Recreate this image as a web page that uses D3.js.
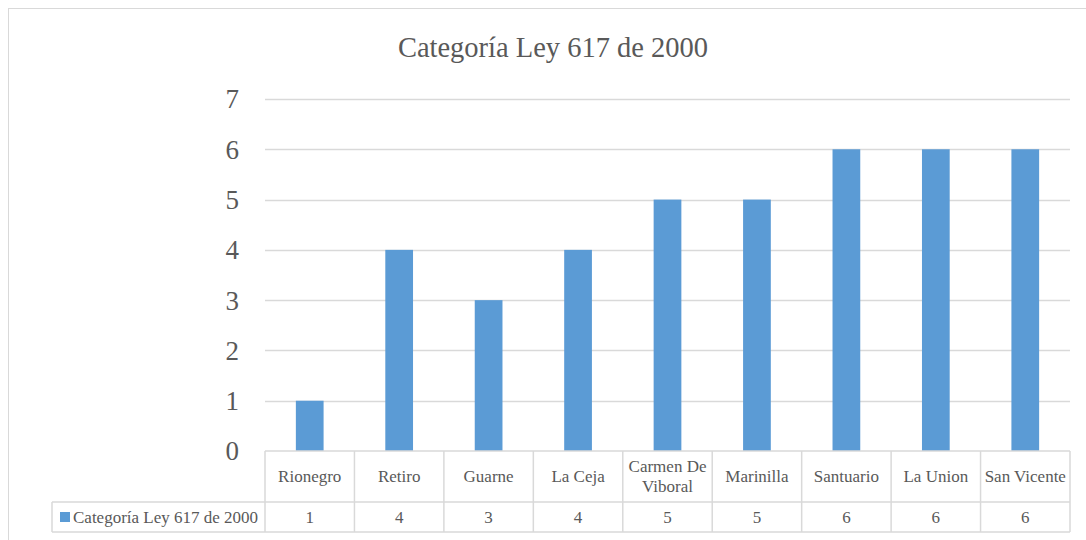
<!DOCTYPE html>
<html>
<head>
<meta charset="utf-8">
<script src="https://cdn.jsdelivr.net/npm/d3@7"></script>
<style>
  body { margin: 0; background: #fff; }
  svg text { font-family: 'Liberation Serif', 'DejaVu Serif', serif; fill: #595959; }
</style>
</head>
<body>
<svg id="chart"></svg>
<script>
// chart data
let categories = ['Rionegro', 'Retiro', 'Guarne', 'La Ceja', 'Carmen De Viboral', 'Marinilla', 'Santuario', 'La Union', 'San Vicente'];
let values = [1, 4, 3, 4, 5, 5, 6, 6, 6];
let yTicks = [0, 1, 2, 3, 4, 5, 6, 7];
let seriesName = 'Categoría Ley 617 de 2000';
let title = 'Categoría Ley 617 de 2000';

let W = 1086, H = 540;
let plot = {left: 265, right: 1070, top: 99, bottom: 451};
let rowH1 = 51, rowH2 = 30, legendLeft = 52;
let gridColor = '#d9d9d9', barColor = '#5b9bd5';

let svg = d3.select('#chart')
  .attr('width', W)
  .attr('height', H);

// outer chart border
svg.append('rect')
  .attr('x', 8.5).attr('y', 8.5)
  .attr('width', W + 10).attr('height', H + 10)
  .attr('fill', 'none')
  .attr('stroke', gridColor);

svg.append('text')
  .attr('x', 553).attr('y', 57)
  .attr('text-anchor', 'middle')
  .attr('font-size', 28.5)
  .text(title);

let xScale = d3.scaleBand()
  .domain(categories)
  .range([plot.left, plot.right])
  .paddingInner(0.69)
  .paddingOuter(0.345);

let colScale = d3.scaleBand()
  .domain(categories)
  .range([plot.left, plot.right]);

let yScale = d3.scaleLinear()
  .domain([0, 7])
  .range([plot.bottom, plot.top]);

// gridlines
svg.append('g')
  .selectAll('line')
  .data(yTicks.filter((d) => d > 0))
  .enter()
  .append('line')
  .attr('x1', plot.left).attr('x2', plot.right)
  .attr('y1', (d) => Math.round(yScale(d)) + 0.5)
  .attr('y2', (d) => Math.round(yScale(d)) + 0.5)
  .attr('stroke', gridColor)
  .attr('stroke-width', 1.5);

// y tick labels
svg.append('g')
  .selectAll('text')
  .data(yTicks)
  .enter()
  .append('text')
  .attr('x', 239)
  .attr('y', (d) => yScale(d))
  .attr('dy', '0.35em')
  .attr('text-anchor', 'end')
  .attr('font-size', 27)
  .text((d) => d);

// bars
svg.append('g')
  .selectAll('rect')
  .data(values)
  .enter()
  .append('rect')
  .attr('x', (d, i) => xScale(categories[i]))
  .attr('width', xScale.bandwidth())
  .attr('y', (d) => yScale(d))
  .attr('height', (d) => yScale(0) - yScale(d))
  .attr('fill', barColor);

// data table
let table = svg.append('g')
  .attr('stroke', gridColor)
  .attr('stroke-width', 1.5);

let yTop = plot.bottom, yMid = plot.bottom + rowH1, yBot = yMid + rowH2;

table.append('line')
  .attr('x1', plot.left).attr('x2', plot.right)
  .attr('y1', yTop).attr('y2', yTop);
table.append('line')
  .attr('x1', legendLeft).attr('x2', plot.right)
  .attr('y1', yMid).attr('y2', yMid);
table.append('line')
  .attr('x1', legendLeft).attr('x2', plot.right)
  .attr('y1', yBot).attr('y2', yBot);
table.append('line')
  .attr('x1', legendLeft).attr('x2', legendLeft)
  .attr('y1', yMid).attr('y2', yBot);

table.selectAll('.col-line')
  .data(categories)
  .enter()
  .append('line')
  .attr('class', 'col-line')
  .attr('x1', (d) => colScale(d)).attr('x2', (d) => colScale(d))
  .attr('y1', yTop).attr('y2', yBot);
table.append('line')
  .attr('x1', plot.right).attr('x2', plot.right)
  .attr('y1', yTop).attr('y2', yBot);

// category labels (wrap the long one)
let catLabels = svg.append('g')
  .selectAll('text')
  .data(categories)
  .enter()
  .append('text')
  .attr('text-anchor', 'middle')
  .attr('font-size', 17)
  .attr('transform', (d) => 'translate(' + (colScale(d) + colScale.bandwidth() / 2) + ',' + (yTop + rowH1 / 2) + ')');

catLabels.each(function (d) {
  let t = d3.select(this);
  let lines = d === 'Carmen De Viboral' ? ['Carmen De', 'Viboral'] : [d];
  lines.forEach((ln, k) => {
    t.append('tspan')
      .attr('x', 0)
      .attr('y', (k - (lines.length - 1) / 2) * 20)
      .attr('dy', '0.35em')
      .text(ln);
  });
});

// value row
svg.append('g')
  .selectAll('text')
  .data(values)
  .enter()
  .append('text')
  .attr('x', (d, i) => colScale(categories[i]) + colScale.bandwidth() / 2)
  .attr('y', yMid + rowH2 / 2)
  .attr('dy', '0.35em')
  .attr('text-anchor', 'middle')
  .attr('font-size', 17)
  .text((d) => d);

// legend cell
svg.append('rect')
  .attr('x', 60).attr('y', yMid + rowH2 / 2 - 5)
  .attr('width', 10).attr('height', 10)
  .attr('fill', barColor);
svg.append('text')
  .attr('x', 73)
  .attr('y', yMid + rowH2 / 2)
  .attr('dy', '0.35em')
  .attr('font-size', 17)
  .text(seriesName);
</script>
</body>
</html>
